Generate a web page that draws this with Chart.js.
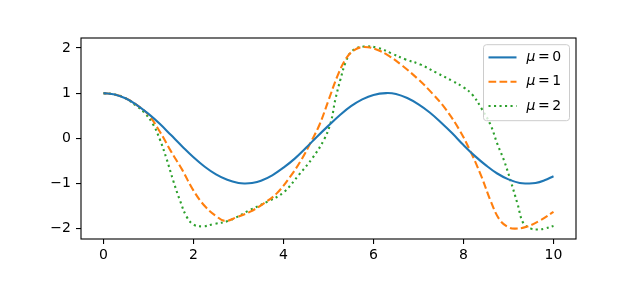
<!DOCTYPE html>
<html>
<head>
<meta charset="utf-8">
<script src="https://cdn.jsdelivr.net/npm/chart.js@4"></script>
<style>
  html, body { margin: 0; padding: 0; background: #fff; }
  #wrap { width: 640px; height: 283px; }
</style>
</head>
<body>
<div id="wrap"><canvas id="chart" width="640" height="283"></canvas></div>
<script>
// ----------------------
// Data
// ----------------------
const seriesLabels = ["0", "1", "2"];

// mu = 0
const mu0T = [0, 0.25, 0.5, 0.75, 1, 1.25, 1.5, 1.75, 2, 2.25, 2.5, 2.75, 3, 3.15, 3.3, 3.5, 3.75, 4, 4.25, 4.5, 4.75,
  5, 5.25, 5.5, 5.75, 6, 6.28, 6.5, 6.75, 7, 7.25, 7.5, 7.75, 8, 8.25, 8.5, 8.75, 9, 9.25, 9.42, 9.6, 9.8, 10];
const mu0X = [1.00, 0.97, 0.88, 0.73, 0.54, 0.32, 0.07, -0.18, -0.42, -0.63, -0.80, -0.92, -0.99, -1.00, -0.99, -0.94, -0.82, -0.65, -0.45, -0.21, 0.04,
  0.28, 0.51, 0.71, 0.86, 0.96, 1.00, 0.98, 0.89, 0.75, 0.57, 0.35, 0.11, -0.15, -0.39, -0.60, -0.78, -0.91, -0.99, -1.00, -0.99, -0.93, -0.84];

// mu = 1
const mu1T = [0, 0.25, 0.5, 0.75, 1.0, 1.25, 1.5, 1.75, 2.0, 2.25, 2.5, 2.7, 2.95, 3.25, 3.55, 3.85, 4.15, 4.4, 4.6, 4.8,
  5.0, 5.2, 5.4, 5.6, 5.8, 6.05, 6.35, 6.65, 7.0, 7.3, 7.6, 7.9, 8.15, 8.4, 8.6, 8.8, 9.0, 9.15, 9.4, 9.7, 10.0];
const mu1X = [1.0, 0.97, 0.88, 0.73, 0.52, 0.15, -0.29, -0.70, -1.16, -1.50, -1.72, -1.83, -1.75, -1.63, -1.45, -1.22, -0.85, -0.47, -0.10, 0.30,
  0.84, 1.38, 1.78, 1.97, 2.02, 1.97, 1.82, 1.60, 1.30, 1.00, 0.65, 0.20, -0.28, -0.85, -1.38, -1.80, -1.97, -2.00, -1.96, -1.82, -1.63];

// mu = 2
const mu2T = [0, 0.25, 0.5, 0.75, 0.9, 1.1, 1.25, 1.4, 1.55, 1.7, 1.85, 2.0, 2.2, 2.45, 2.8, 3.25, 3.65, 4.0, 4.35, 4.65,
  4.9, 5.05, 5.15, 5.27, 5.38, 5.52, 5.78, 6.1, 6.4, 6.7, 7.05, 7.4, 7.75, 8.0, 8.2, 8.4, 8.6, 8.75, 8.9, 9.05,
  9.2, 9.33, 9.5, 9.65, 9.8, 10.0];
const mu2X = [1.0, 0.97, 0.88, 0.70, 0.58, 0.31, -0.02, -0.45, -0.94, -1.38, -1.74, -1.91, -1.95, -1.90, -1.82, -1.59, -1.40, -1.20, -0.80, -0.43,
  -0.03, 0.35, 0.85, 1.32, 1.68, 1.93, 2.03, 2.00, 1.88, 1.75, 1.63, 1.45, 1.27, 1.13, 0.96, 0.66, 0.30, -0.12, -0.49, -0.95,
  -1.45, -1.88, -2.00, -2.02, -2.00, -1.94];

const xTicks = [0, 2, 4, 6, 8, 10];
const yTicks = [-2, -1, 0, 1, 2];

const colors = ["#1f77b4", "#ff7f0e", "#2ca02c"];
const dashes = [[], [7.7, 3.3], [2.1, 3.4]];

function toPoints(ts, xs) {
  return ts.map((t, i) => ({ x: t, y: xs[i] }));
}

const FONT = "DejaVu Sans";

// ----------------------
// Frame + legend (matplotlib style)
// ----------------------
const framePlugin = {
  id: "frameAndLegend",
  afterDraw(chart) {
    const ctx = chart.ctx;
    const a = chart.chartArea;
    ctx.save();
    ctx.strokeStyle = "#000";
    ctx.lineWidth = 1.1;
    ctx.strokeRect(a.left, a.top, a.right - a.left, a.bottom - a.top);

    // legend box
    const w = 86, h = 76;
    const bx = a.right - 6.5 - w;
    const by = a.top + 6.7;
    const r = 3;
    ctx.beginPath();
    ctx.moveTo(bx + r, by);
    ctx.lineTo(bx + w - r, by);
    ctx.arcTo(bx + w, by, bx + w, by + r, r);
    ctx.lineTo(bx + w, by + h - r);
    ctx.arcTo(bx + w, by + h, bx + w - r, by + h, r);
    ctx.lineTo(bx + r, by + h);
    ctx.arcTo(bx, by + h, bx, by + h - r, r);
    ctx.lineTo(bx, by + r);
    ctx.arcTo(bx, by, bx + r, by, r);
    ctx.closePath();
    ctx.fillStyle = "rgba(255,255,255,0.8)";
    ctx.fill();
    ctx.strokeStyle = "#cccccc";
    ctx.lineWidth = 1;
    ctx.stroke();

    seriesLabels.forEach((lab, i) => {
      const y = by + 12.7 + i * 24.3;
      ctx.beginPath();
      ctx.setLineDash(dashes[i]);
      ctx.lineCap = "butt";
      ctx.strokeStyle = colors[i];
      ctx.lineWidth = 2.1;
      ctx.moveTo(bx + 5, y);
      ctx.lineTo(bx + 33, y);
      ctx.stroke();
      ctx.setLineDash([]);

      ctx.fillStyle = "#000";
      ctx.textBaseline = "middle";
      ctx.textAlign = "left";
      let tx = bx + 43;
      ctx.font = "italic 14px '" + FONT + "'";
      ctx.fillText("\u03bc", tx, y);
      tx += ctx.measureText("\u03bc").width + 2.5;
      ctx.font = "14px '" + FONT + "'";
      ctx.fillText("=", tx, y);
      tx += ctx.measureText("=").width + 2.5;
      ctx.fillText(lab, tx, y);
    });
    ctx.restore();
  }
};

// ----------------------
// Chart
// ----------------------
const datasets = [
  toPoints(mu0T, mu0X),
  toPoints(mu1T, mu1X),
  toPoints(mu2T, mu2X)
].map((pts, i) => ({
  label: "\u03bc = " + seriesLabels[i],
  data: pts,
  borderColor: colors[i],
  backgroundColor: colors[i],
  borderWidth: 2.1,
  borderDash: dashes[i],
  borderCapStyle: "butt",
  pointRadius: 0,
  tension: 0.4,
  fill: false
}));

function tickFmt(v) {
  return v < 0 ? "\u2212" + Math.abs(v) : String(v);
}

new Chart(document.getElementById("chart"), {
  type: "line",
  data: { datasets },
  options: {
    responsive: false,
    animation: false,
    events: [],
    layout: { padding: { left: 0, right: 64, top: 38, bottom: 0 } },
    plugins: {
      legend: { display: false },
      tooltip: { enabled: false }
    },
    scales: {
      x: {
        type: "linear",
        min: -0.5,
        max: 10.5,
        afterBuildTicks: s => { s.ticks = xTicks.map(v => ({ value: v })); },
        afterFit: s => { s.height = 44; },
        grid: { display: true, drawOnChartArea: false, drawTicks: true, tickLength: 5, color: "#000", lineWidth: 1.1 },
        border: { display: false },
        ticks: {
          font: { family: FONT, size: 14 },
          color: "#000",
          padding: 3,
          maxRotation: 0,
          callback: v => tickFmt(v)
        }
      },
      y: {
        type: "linear",
        min: -2.23,
        max: 2.22,
        afterBuildTicks: s => { s.ticks = yTicks.map(v => ({ value: v })); },
        afterFit: s => { s.width = 81; },
        grid: { display: true, drawOnChartArea: false, drawTicks: true, tickLength: 5, color: "#000", lineWidth: 1.1 },
        border: { display: false },
        ticks: {
          font: { family: FONT, size: 14 },
          color: "#000",
          padding: 5,
          callback: v => tickFmt(v)
        }
      }
    }
  },
  plugins: [framePlugin]
});
</script>
</body>
</html>
